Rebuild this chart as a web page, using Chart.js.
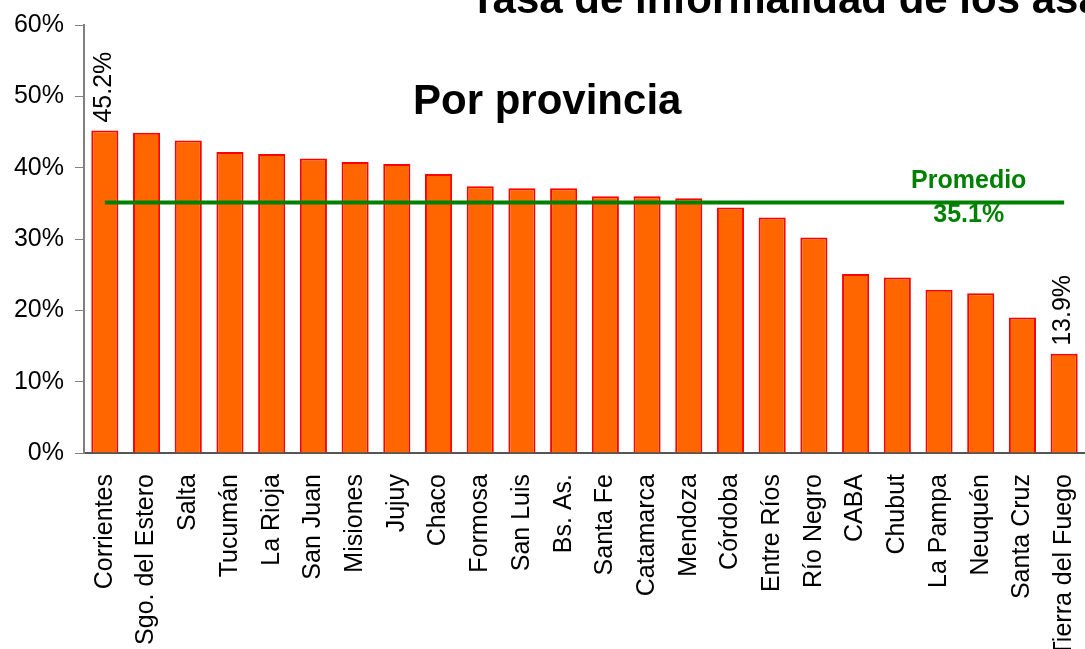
<!DOCTYPE html>
<html>
<head>
<meta charset="utf-8">
<script src="https://cdn.jsdelivr.net/npm/chart.js@4/dist/chart.umd.min.js"></script>
<style>
html,body{margin:0;padding:0;background:#fff;overflow:hidden;}
#wrap{width:1085px;height:649px;position:relative;}
</style>
</head>
<body>
<div id="wrap"><canvas id="c" width="1085" height="649"></canvas></div>
<script>
const provincias = ["Corrientes","Sgo. del Estero","Salta","Tucumán","La Rioja","San Juan","Misiones","Jujuy","Chaco","Formosa","San Luis","Bs. As.","Santa Fe","Catamarca","Mendoza","Córdoba","Entre Ríos","Río Negro","CABA","Chubut","La Pampa","Neuquén","Santa Cruz","Tierra del Fuego"];
const tasaInformalidad = [45.2,44.9,43.8,42.2,41.9,41.3,40.8,40.5,39.1,37.4,37.1,37.1,36.0,36.0,35.7,34.4,33.0,30.2,25.1,24.6,22.9,22.4,19.0,13.9];
const promedio = 35.1;
const yTicks = [0,10,20,30,40,50,60];
const tituloPrincipal = "Tasa de informalidad de los asalariados";
const subtitulo = "Por provincia";
const etiquetaPromedio = "Promedio";
const etiquetasValor = {0: "45.2%", 23: "13.9%"};

const FONT = "'Liberation Sans', Arial, sans-serif";

const textPlugin = {
  id: 'textPlugin',
  afterDatasetsDraw(chart) {
    const ctx = chart.ctx;
    const x = chart.scales.x, y = chart.scales.y;
    ctx.save();
    ctx.fillStyle = '#000';
    ctx.font = "bold 42px " + FONT;
    ctx.textAlign = 'left';
    ctx.textBaseline = 'alphabetic';
    ctx.fillText(tituloPrincipal, 470, 13);
    ctx.font = "bold 42px " + FONT;
    ctx.fillText(subtitulo, 413, y.getPixelForValue(50) + 18);
    ctx.fillStyle = '#008000';
    ctx.font = "bold 25px " + FONT;
    ctx.textAlign = 'center';
    const cx = x.getPixelForValue(21) - 12;
    const py = y.getPixelForValue(promedio);
    ctx.fillText(etiquetaPromedio, cx, py - 15);
    ctx.fillText(promedio.toFixed(1) + "%", cx, py + 19);
    ctx.fillStyle = '#000';
    ctx.font = "25px " + FONT;
    ctx.textAlign = 'left';
    ctx.textBaseline = 'middle';
    for (const k in etiquetasValor) {
      const i = +k;
      const bx = x.getPixelForValue(i);
      const by = y.getPixelForValue(tasaInformalidad[i]);
      ctx.save();
      ctx.translate(bx - 1, by - 8);
      ctx.rotate(-Math.PI / 2);
      ctx.fillText(etiquetasValor[k], 0, 0);
      ctx.restore();
    }
    ctx.restore();
  }
};

new Chart(document.getElementById('c'), {
  type: 'bar',
  data: {
    labels: provincias,
    datasets: [
      {
        type: 'line',
        data: provincias.map(() => promedio),
        borderColor: '#008000',
        borderWidth: 4,
        pointRadius: 0,
        fill: false,
        order: 0
      },
      {
        type: 'bar',
        data: tasaInformalidad,
        backgroundColor: '#FF6600',
        borderColor: '#FF0000',
        borderWidth: 2,
        borderSkipped: 'bottom',
        barPercentage: 0.65,
        categoryPercentage: 1.0,
        order: 1
      }
    ]
  },
  options: {
    responsive: false,
    animation: false,
    layout: { padding: { top: 25, right: 0, left: 0, bottom: 0 } },
    plugins: { legend: { display: false }, title: { display: false }, tooltip: { enabled: false } },
    scales: {
      x: {
        grid: { display: false, drawTicks: false },
        border: { display: true, color: '#555', width: 2 },
        ticks: {
          color: '#000',
          font: { family: FONT, size: 25 },
          maxRotation: 90, minRotation: 90,
          autoSkip: false,
          padding: 21
        },
        afterFit(scale) { scale.height = 196; scale.paddingRight = 0; scale.paddingLeft = 0; }
      },
      y: {
        min: 0, max: 60,
        afterBuildTicks(scale) { scale.ticks = yTicks.map(v => ({ value: v })); },
        grid: { drawOnChartArea: false, drawTicks: true, tickLength: 9, color: '#808080' },
        border: { display: true, color: '#808080', width: 2 },
        ticks: {
          color: '#000',
          font: { family: FONT, size: 25 },
          padding: 11,
          callback: v => v + '%'
        },
        afterFit(scale) { scale.width = 84; scale.paddingTop = 0; scale.paddingBottom = 0; }
      }
    }
  },
  plugins: [textPlugin]
});
</script>
</body>
</html>
